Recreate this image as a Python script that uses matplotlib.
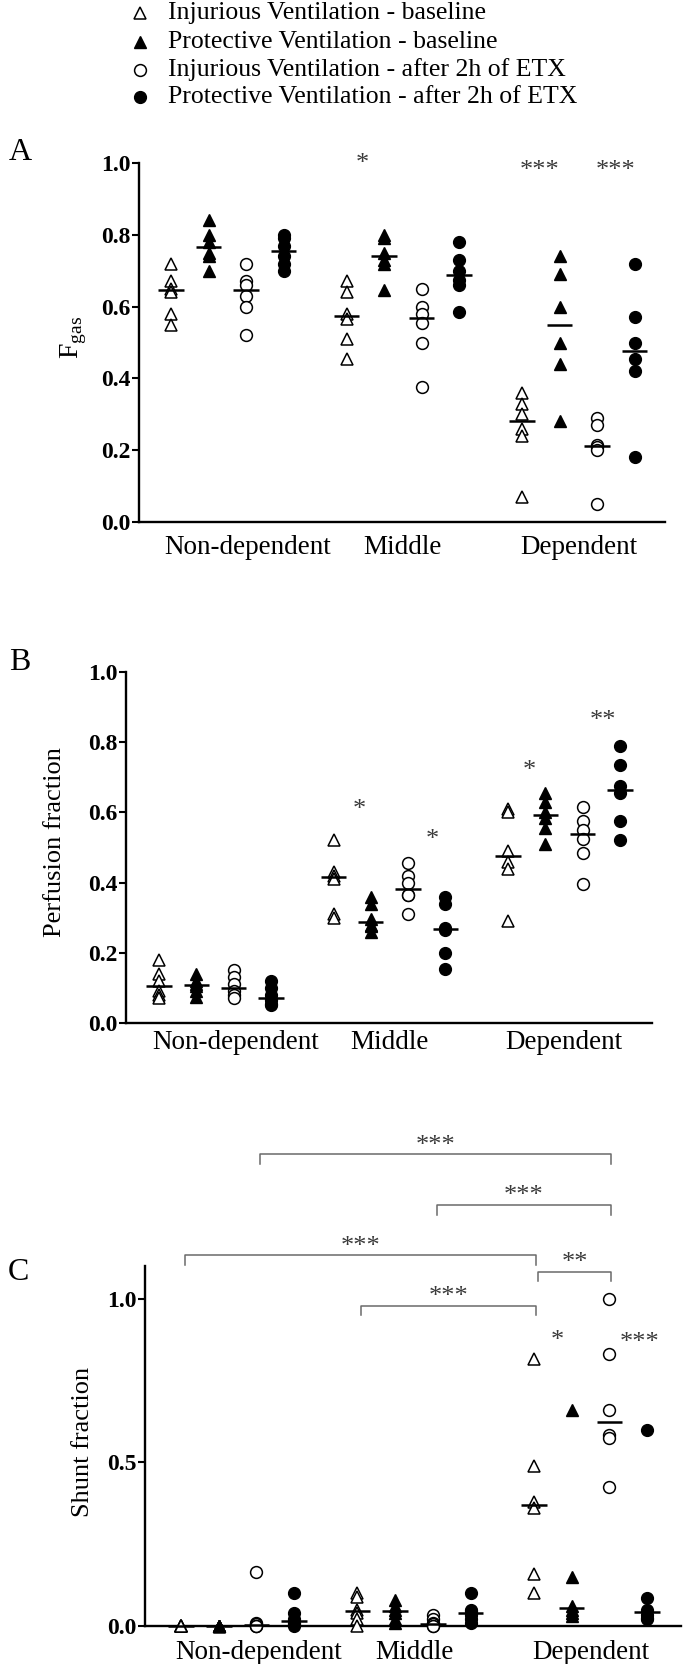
import numpy as np
import matplotlib
matplotlib.use('Agg')
import matplotlib.pyplot as plt
from matplotlib.lines import Line2D

plt.rcParams['font.family'] = ['Liberation Serif', 'DejaVu Serif']
plt.rcParams['mathtext.fontset'] = 'custom'
plt.rcParams['mathtext.rm'] = 'Liberation Serif'

# ---------------- data ----------------
regions = ['Non-dependent', 'Middle', 'Dependent']
series_names = ['Injurious Ventilation - baseline',
                'Protective Ventilation - baseline',
                'Injurious Ventilation - after 2h of ETX',
                'Protective Ventilation - after 2h of ETX']

# Panel A: F_gas  [region][series]
fgas_nondep = [[0.72, 0.67, 0.65, 0.64, 0.58, 0.55],
               [0.84, 0.80, 0.78, 0.75, 0.74, 0.70],
               [0.72, 0.67, 0.66, 0.63, 0.60, 0.52],
               [0.80, 0.79, 0.77, 0.74, 0.72, 0.70]]
fgas_middle = [[0.67, 0.64, 0.58, 0.565, 0.51, 0.455],
               [0.80, 0.79, 0.75, 0.73, 0.72, 0.645],
               [0.65, 0.60, 0.58, 0.555, 0.50, 0.375],
               [0.78, 0.73, 0.70, 0.675, 0.66, 0.585]]
fgas_dep = [[0.36, 0.33, 0.30, 0.26, 0.24, 0.07],
            [0.74, 0.69, 0.60, 0.50, 0.44, 0.28],
            [0.29, 0.27, 0.215, 0.21, 0.20, 0.05],
            [0.72, 0.57, 0.50, 0.455, 0.42, 0.18]]

# Panel B: perfusion fraction
perf_nondep = [[0.18, 0.14, 0.12, 0.09, 0.08, 0.07],
               [0.14, 0.12, 0.11, 0.105, 0.09, 0.075],
               [0.15, 0.13, 0.11, 0.09, 0.08, 0.07],
               [0.12, 0.10, 0.08, 0.065, 0.055, 0.05]]
perf_middle = [[0.52, 0.43, 0.42, 0.41, 0.31, 0.30],
               [0.36, 0.34, 0.295, 0.28, 0.275, 0.26],
               [0.455, 0.42, 0.40, 0.365, 0.365, 0.31],
               [0.36, 0.34, 0.27, 0.265, 0.20, 0.155]]
perf_dep = [[0.61, 0.60, 0.49, 0.46, 0.44, 0.29],
            [0.655, 0.63, 0.60, 0.585, 0.555, 0.51],
            [0.615, 0.575, 0.55, 0.525, 0.485, 0.395],
            [0.79, 0.735, 0.675, 0.655, 0.575, 0.52]]

# Panel C: shunt fraction
shunt_nondep = [[0.0, 0.0, 0.0, 0.0, 0.0, 0.0],
                [0.0, 0.0, 0.0, 0.0, 0.0, 0.0],
                [0.165, 0.01, 0.005, 0.0, 0.0, 0.0],
                [0.10, 0.04, 0.02, 0.01, 0.005, 0.0]]
shunt_middle = [[0.10, 0.09, 0.05, 0.04, 0.02, 0.0],
                [0.08, 0.06, 0.05, 0.04, 0.02, 0.01],
                [0.035, 0.02, 0.01, 0.005, 0.0, 0.0],
                [0.10, 0.05, 0.045, 0.035, 0.02, 0.01]]
shunt_dep = [[0.815, 0.49, 0.38, 0.36, 0.16, 0.10],
             [0.66, 0.15, 0.06, 0.05, 0.04, 0.03],
             [1.0, 0.83, 0.66, 0.585, 0.575, 0.425],
             [0.60, 0.085, 0.05, 0.035, 0.025, 0.02]]

# significance stars: (region index, offset within group, y, text)
stars_A = [(1, 0.41, 1.02, '*'), (2, 0.48, 1.0, '***'), (2, 2.48, 1.0, '***')]
stars_B = [(1, 0.68, 0.628, '*'), (1, 2.64, 0.545, '*'),
           (2, 0.56, 0.74, '*'), (2, 2.54, 0.883, '**')]
stars_C = [(2, 0.61, 0.895, '*'), (2, 2.79, 0.89, '***')]
# brackets in C: (region1, series1, region2, series2, height, label)
brackets_C = [(0, 2, 2, 2, 1.441, '***'),
              (1, 2, 2, 2, 1.287, '***'),
              (0, 0, 2, 0, 1.133, '***'),
              (2, 0, 2, 2, 1.083, '**'),
              (1, 0, 2, 0, 0.979, '***')]

# ---------------- layout ----------------
W, H = 685, 1664
GAP = 4.68
fig = plt.figure(figsize=(W / 100, H / 100), dpi=100)


def fx(px):
    return px / W


def fy(py):
    return 1 - py / H


def rect(l, r, t, b):
    return [l / W, 1 - b / H, (r - l) / W, (b - t) / H]


styles = [dict(marker='^', mfc='white', mec='black', ms=8.5, mew=1.1),
          dict(marker='^', mfc='black', mec='black', ms=8.0, mew=1.0),
          dict(marker='o', mfc='white', mec='black', ms=8.5, mew=1.1),
          dict(marker='o', mfc='black', mec='black', ms=8.5, mew=1.0)]

STAR_COLOR = '#3a3a3a'
STAR_SIZE = 19


def xpos(g, s):
    return g * GAP + s


def draw_panel(ax, data, xlim, ylim, yticks, ylabels, xpad):
    for g in range(3):
        for s in range(4):
            vals = np.asarray(data[g][s], dtype=float)
            x = xpos(g, s)
            ax.plot(np.full(vals.size, x), vals, linestyle='none',
                    clip_on=False, zorder=3, **styles[s])
            med = np.median(vals)
            ax.plot([x - 0.34, x + 0.34], [med, med], color='black',
                    lw=1.8, zorder=4, clip_on=False, solid_capstyle='butt')
    ax.set_xlim(*xlim)
    ax.set_ylim(*ylim)
    for sp in ['top', 'right']:
        ax.spines[sp].set_visible(False)
    for sp in ['left', 'bottom']:
        ax.spines[sp].set_linewidth(1.7)
    ax.set_yticks(yticks)
    ax.set_yticklabels(ylabels, fontsize=17, fontweight='bold')
    ax.tick_params(axis='y', length=5, width=1.5, pad=1)
    centers = [xpos(g, 1.5) for g in range(3)]
    shift = [0.55, 0.0, 0.0]
    ax.set_xticks([c + d for c, d in zip(centers, shift)])
    ax.set_xticklabels(regions, fontsize=19.5)
    ax.tick_params(axis='x', length=0, pad=xpad)


def draw_stars(ax, stars):
    for g, off, y, txt in stars:
        ax.annotate(txt, (g * GAP + off, y), xytext=(0, -10),
                    textcoords='offset points', ha='center', va='baseline',
                    fontsize=STAR_SIZE, color=STAR_COLOR, annotation_clip=False)


# Panel A
axA = fig.add_axes(rect(139, 665, 163, 522))
draw_panel(axA, [fgas_nondep, fgas_middle, fgas_dep], (-0.853, 13.17), (0, 1.0),
           np.arange(0, 1.01, 0.2), ['0.0', '0.2', '0.4', '0.6', '0.8', '1.0'], 9.5)
draw_stars(axA, stars_A)

# Panel B
axB = fig.add_axes(rect(126, 652, 672, 1023))
draw_panel(axB, [perf_nondep, perf_middle, perf_dep], (-0.885, 13.22), (0, 1.0),
           np.arange(0, 1.01, 0.2), ['0.0', '0.2', '0.4', '0.6', '0.8', '1.0'], 5)
draw_stars(axB, stars_B)

# Panel C
axC = fig.add_axes(rect(145, 681, 1266, 1626))
draw_panel(axC, [shunt_nondep, shunt_middle, shunt_dep], (-0.955, 13.26), (0, 1.1),
           [0.0, 0.5, 1.0], ['0.0', '0.5', '1.0'], 10)
draw_stars(axC, stars_C)
for g1, s1, g2, s2, yb, txt in brackets_C:
    x1, x2 = xpos(g1, s1) + 0.1, xpos(g2, s2) + 0.05
    axC.plot([x1, x1, x2, x2], [yb - 0.03, yb, yb, yb - 0.03], color='#6a6a6a',
             lw=1.1, clip_on=False, zorder=2)
    axC.annotate(txt, ((x1 + x2) / 2, yb + 0.05), xytext=(0, -10),
                 textcoords='offset points', ha='center', va='baseline',
                 fontsize=STAR_SIZE, color=STAR_COLOR, annotation_clip=False)

# axis labels
fig.text(fx(74), fy(337), r'F$_{\mathregular{gas}}$', rotation=90, ha='center',
         va='center', fontsize=20)
fig.text(fx(55), fy(842), 'Perfusion fraction', rotation=90, ha='center',
         va='center', fontsize=19)
fig.text(fx(83), fy(1442), 'Shunt fraction', rotation=90, ha='center',
         va='center', fontsize=19)

# panel letters
fig.text(fx(20), fy(153), 'A', ha='center', va='center', fontsize=23)
fig.text(fx(20), fy(663), 'B', ha='center', va='center', fontsize=23)
fig.text(fx(18), fy(1273), 'C', ha='center', va='center', fontsize=23)

# legend
legend_rows = [13, 42, 70, 97]
for s, name in enumerate(series_names):
    yy = fy(legend_rows[s])
    fig.add_artist(Line2D([fx(140)], [yy], linestyle='none',
                          transform=fig.transFigure, **styles[s]))
    fig.text(fx(168), yy, name, ha='left', va='center', fontsize=18.5)

fig.savefig('out.png', dpi=100)
